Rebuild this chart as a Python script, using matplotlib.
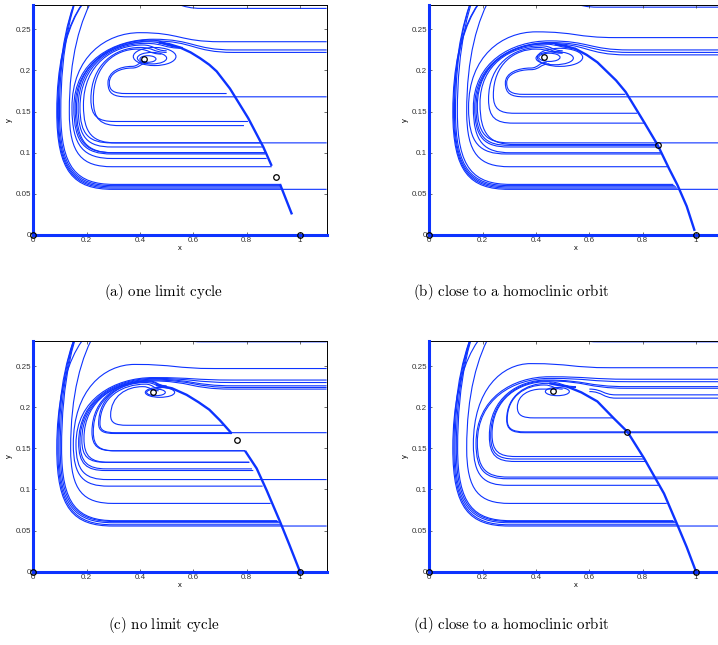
import matplotlib
matplotlib.use('Agg')
import matplotlib.pyplot as plt
from matplotlib.path import Path
from matplotlib.patches import PathPatch, Ellipse

plt.rcParams['mathtext.fontset'] = 'cm'
plt.rcParams['font.family'] = ['Liberation Sans', 'DejaVu Sans']

BLUE = (0.05, 0.2, 1.0)

# ---------------- data ----------------
# trajectory rows: x_in, y_in, x_top, y_peak, x_left, y_left, y_bot, x_out
traj_a = [
    (1.1, 0.2795, 0.33, 0.31, 0.088, 0.15, 0.0555, 1.1),
    (1.1, 0.2755, 0.33, 0.31, 0.091, 0.15, 0.057, 0.93),
    (1.1, 0.30, 0.40, 0.36, 0.094, 0.15, 0.0585, 0.93),
    (1.1, 0.30, 0.42, 0.37, 0.098, 0.15, 0.060, 0.93),
    (1.1, 0.30, 0.44, 0.38, 0.103, 0.15, 0.0615, 0.925),
    (1.1, 0.34, 0.45, 0.34, 0.135, 0.15, 0.083, 0.894),
    (1.1, 0.235, 0.40, 0.246, 0.145, 0.155, 0.093, 0.875),
    (1.1, 0.225, 0.45, 0.238, 0.152, 0.155, 0.0985, 0.87),
    (1.1, 0.222, 0.45, 0.236, 0.157, 0.155, 0.100, 0.87),
    (0.56, 0.228, 0.44, 0.237, 0.162, 0.155, 0.100, 0.87),
    (0.56, 0.228, 0.43, 0.235, 0.168, 0.155, 0.107, 0.86),
    (0.56, 0.227, 0.42, 0.233, 0.175, 0.155, 0.112, 1.1),
    (0.50, 0.224, 0.41, 0.231, 0.188, 0.158, 0.112, 0.85),
    (0.50, 0.222, 0.40, 0.228, 0.216, 0.165, 0.138, 0.805),
    (0.48, 0.220, 0.39, 0.226, 0.225, 0.165, 0.133, 0.79),
    (0.42, 0.211, 0.37, 0.205, 0.280, 0.185, 0.168, 1.1),
    (0.43, 0.209, 0.37, 0.203, 0.285, 0.185, 0.172, 0.725),
]
traj_b = [
    (1.1, 0.2795, 0.33, 0.31, 0.088, 0.15, 0.0555, 1.1),
    (1.1, 0.277, 0.33, 0.31, 0.091, 0.15, 0.057, 0.93),
    (1.1, 0.30, 0.40, 0.36, 0.094, 0.15, 0.0585, 0.925),
    (1.1, 0.30, 0.42, 0.37, 0.098, 0.15, 0.060, 0.92),
    (1.1, 0.30, 0.44, 0.38, 0.105, 0.15, 0.0615, 0.915),
    (1.1, 0.34, 0.45, 0.34, 0.140, 0.15, 0.083, 0.893),
    (1.1, 0.240, 0.40, 0.247, 0.147, 0.155, 0.0985, 0.868),
    (1.1, 0.225, 0.45, 0.236, 0.165, 0.155, 0.100, 0.868),
    (1.1, 0.222, 0.45, 0.234, 0.170, 0.155, 0.107, 0.86),
    (1.1, 0.219, 0.44, 0.233, 0.175, 0.155, 0.109, 0.856),
    (0.55, 0.227, 0.43, 0.232, 0.180, 0.157, 0.112, 1.1),
    (0.50, 0.224, 0.42, 0.230, 0.190, 0.160, 0.110, 0.855),
    (0.50, 0.222, 0.41, 0.228, 0.222, 0.165, 0.136, 0.81),
    (0.50, 0.221, 0.40, 0.226, 0.240, 0.170, 0.148, 0.78),
    (0.44, 0.210, 0.38, 0.203, 0.285, 0.185, 0.168, 1.1),
    (0.45, 0.208, 0.38, 0.201, 0.290, 0.185, 0.171, 0.735),
]
traj_c = [
    (1.1, 0.2795, 0.33, 0.31, 0.088, 0.15, 0.0555, 1.1),
    (1.1, 0.30, 0.40, 0.36, 0.092, 0.15, 0.057, 0.93),
    (1.1, 0.30, 0.42, 0.37, 0.096, 0.15, 0.0595, 0.925),
    (1.1, 0.30, 0.44, 0.38, 0.101, 0.15, 0.061, 0.92),
    (1.1, 0.30, 0.46, 0.39, 0.106, 0.15, 0.062, 0.915),
    (1.1, 0.34, 0.45, 0.34, 0.140, 0.15, 0.083, 0.89),
    (1.1, 0.247, 0.38, 0.252, 0.150, 0.155, 0.104, 0.86),
    (1.1, 0.233, 0.45, 0.236, 0.160, 0.155, 0.112, 1.1),
    (1.1, 0.230, 0.45, 0.235, 0.170, 0.157, 0.123, 0.825),
    (1.1, 0.226, 0.45, 0.234, 0.175, 0.158, 0.125, 0.82),
    (1.1, 0.224, 0.45, 0.233, 0.182, 0.160, 0.133, 0.81),
    (1.1, 0.222, 0.44, 0.232, 0.190, 0.162, 0.133, 0.81),
    (0.50, 0.226, 0.43, 0.232, 0.220, 0.170, 0.147, 0.794),
    (0.50, 0.225, 0.43, 0.231, 0.225, 0.170, 0.147, 0.794),
    (0.50, 0.224, 0.42, 0.230, 0.245, 0.180, 0.168, 0.745),
    (0.48, 0.222, 0.42, 0.228, 0.250, 0.180, 0.169, 1.1),
    (0.47, 0.220, 0.41, 0.225, 0.290, 0.190, 0.178, 0.715),
]
traj_d = [
    (1.1, 0.2795, 0.33, 0.31, 0.088, 0.15, 0.0555, 1.1),
    (1.1, 0.30, 0.40, 0.36, 0.092, 0.15, 0.057, 0.93),
    (1.1, 0.30, 0.42, 0.37, 0.096, 0.15, 0.0595, 0.925),
    (1.1, 0.30, 0.44, 0.38, 0.101, 0.15, 0.061, 0.92),
    (1.1, 0.30, 0.46, 0.39, 0.106, 0.15, 0.062, 0.915),
    (1.1, 0.34, 0.45, 0.34, 0.140, 0.15, 0.083, 0.89),
    (1.1, 0.248, 0.38, 0.253, 0.165, 0.155, 0.105, 0.86),
    (1.1, 0.234, 0.45, 0.237, 0.175, 0.156, 0.113, 1.1),
    (1.1, 0.231, 0.45, 0.235, 0.180, 0.157, 0.115, 1.1),
    (1.1, 0.225, 0.44, 0.233, 0.225, 0.165, 0.134, 0.81),
    (1.1, 0.223, 0.44, 0.232, 0.230, 0.165, 0.137, 0.805),
    (0.55, 0.225, 0.44, 0.231, 0.235, 0.167, 0.140, 0.80),
    (0.55, 0.224, 0.44, 0.229, 0.290, 0.185, 0.169, 1.1),
    (0.50, 0.222, 0.43, 0.227, 0.292, 0.185, 0.170, 1.1),
    (0.48, 0.222, 0.42, 0.222, 0.330, 0.200, 0.187, 0.69),
]
# short branches entering from the right and joining the sliding arc: x_in, y_in, x_end, y_end
stub_d = [(1.1, 0.215, 0.60, 0.222), (1.1, 0.211, 0.60, 0.219)]

# spiral loops around the focus: cx, cy, width, height
loops_a = [(0.430, 0.214, 0.06, 0.008), (0.445, 0.215, 0.11, 0.014), (0.455, 0.217, 0.16, 0.022)]
loops_b = [(0.450, 0.216, 0.08, 0.010), (0.470, 0.215, 0.14, 0.016), (0.490, 0.216, 0.17, 0.022)]
loops_c = [(0.460, 0.218, 0.07, 0.008), (0.475, 0.218, 0.11, 0.012)]
loops_d = [(0.480, 0.219, 0.09, 0.010)]

# thick sliding / separatrix arcs
arc_a_x = [0.47, 0.51, 0.55, 0.59, 0.625, 0.66, 0.6875, 0.7375, 0.806, 0.8625, 0.894]
arc_a_y = [0.234, 0.232, 0.228, 0.222, 0.215, 0.207, 0.199, 0.178, 0.142, 0.107, 0.084]
seg_a_x = [0.925, 0.97]
seg_a_y = [0.062, 0.025]
arc_b_x = [0.47, 0.51, 0.55, 0.59, 0.63, 0.70, 0.736, 0.80, 0.856, 0.90, 0.93, 0.965, 0.995]
arc_b_y = [0.232, 0.230, 0.226, 0.219, 0.210, 0.188, 0.174, 0.140, 0.1095, 0.080, 0.061, 0.035, 0.005]
arc_c1_x = [0.46, 0.52, 0.575, 0.62, 0.66, 0.70, 0.744]
arc_c1_y = [0.227, 0.223, 0.215, 0.206, 0.197, 0.184, 0.168]
arc_c2_x = [0.794, 0.8375, 0.875, 0.925, 0.96, 1.0]
arc_c2_y = [0.147, 0.1256, 0.099, 0.061, 0.033, 0.0]
arc_d_x = [0.45, 0.517, 0.57, 0.63, 0.693, 0.743, 0.805, 0.88, 0.93, 0.965, 1.0]
arc_d_y = [0.229, 0.225, 0.218, 0.207, 0.186, 0.170, 0.138, 0.095, 0.057, 0.030, 0.0]

# equilibria markers
eq_a_x = [0, 1, 0.415, 0.91]
eq_a_y = [0, 0, 0.214, 0.071]
eq_b_x = [0, 1, 0.429, 0.856]
eq_b_y = [0, 0, 0.216, 0.1095]
eq_c_x = [0, 1, 0.4475, 0.7625]
eq_c_y = [0, 0, 0.219, 0.160]
eq_d_x = [0, 1, 0.464, 0.743]
eq_d_y = [0, 0, 0.220, 0.170]

xticks = [0, 0.2, 0.4, 0.6, 0.8, 1]
xticklabels = ['0', '0.2', '0.4', '0.6', '0.8', '1']
yticks = [0, 0.05, 0.1, 0.15, 0.2, 0.25]
yticklabels = ['0', '0.05', '0.1', '0.15', '0.2', '0.25']
captions = [r'$\mathrm{(a)\ one\ limit\ cycle}$',
            r'$\mathrm{(b)\ close\ to\ a\ homoclinic\ orbit}$',
            r'$\mathrm{(c)\ no\ limit\ cycle}$',
            r'$\mathrm{(d)\ close\ to\ a\ homoclinic\ orbit}$']


def c_path(row):
    x_in, y_in, x_top, y_peak, x_left, y_left, y_bot, x_out = row
    verts = [(x_in, y_in)]
    codes = [Path.MOVETO]
    xs = x_in
    if x_in - x_top > 0.3:
        xs = x_top + 0.3
        verts.append((xs, y_in)); codes.append(Path.LINETO)
    d = xs - x_top
    verts += [(x_top + 0.5 * d, y_in), (x_top + 0.5 * d, y_peak), (x_top, y_peak)]
    codes += [Path.CURVE4] * 3
    tw = x_top - x_left
    verts += [(x_left + 0.5 * tw, y_peak), (x_left, y_left + 0.68 * (y_peak - y_left)), (x_left, y_left)]
    codes += [Path.CURVE4] * 3
    dy = y_left - y_bot
    bw = min(0.04 + 1.8 * dy, x_out - x_left)
    verts += [(x_left, y_left - 0.78 * dy), (x_left + 0.3 * bw, y_bot), (x_left + bw, y_bot)]
    codes += [Path.CURVE4] * 3
    if x_out > x_left + bw:
        verts.append((x_out, y_bot)); codes.append(Path.LINETO)
    return Path(verts, codes)


def stub_path(row):
    x_in, y_in, x_end, y_end = row
    verts = [(x_in, y_in), (x_end + 0.1, y_in), (x_end + 0.05, y_in), (x_end + 0.05, y_end), (x_end, y_end)]
    codes = [Path.MOVETO, Path.LINETO, Path.CURVE4, Path.CURVE4, Path.CURVE4]
    return Path(verts, codes)


fig = plt.figure(figsize=(7.18, 6.45), dpi=100)
W = 0.4085
H = 0.357
positions = [(0.0464, 0.6357), (0.598, 0.6357), (0.0464, 0.1137), (0.598, 0.1137)]
panels = [
    (traj_a, [], loops_a, [(arc_a_x, arc_a_y), (seg_a_x, seg_a_y)], (eq_a_x, eq_a_y)),
    (traj_b, [], loops_b, [(arc_b_x, arc_b_y)], (eq_b_x, eq_b_y)),
    (traj_c, [], loops_c, [(arc_c1_x, arc_c1_y), (arc_c2_x, arc_c2_y)], (eq_c_x, eq_c_y)),
    (traj_d, stub_d, loops_d, [(arc_d_x, arc_d_y)], (eq_d_x, eq_d_y)),
]

for (px, py), (trajs, stubs, loops, arcs, eqs) in zip(positions, panels):
    ax = fig.add_axes([px, py, W, H])
    ax.set_xlim(0, 1.1)
    ax.set_ylim(0, 0.28)
    for row in trajs:
        ax.add_patch(PathPatch(c_path(row), fill=False, edgecolor=BLUE, lw=0.8))
    for row in stubs:
        ax.add_patch(PathPatch(stub_path(row), fill=False, edgecolor=BLUE, lw=0.8))
    for cx, cy, w, h in loops:
        ax.add_patch(Ellipse((cx, cy), w, h, fill=False, edgecolor=BLUE, lw=0.8))
    for axx, ayy in arcs:
        ax.plot(axx, ayy, color=BLUE, lw=1.7, solid_capstyle='butt', solid_joinstyle='round')
    ax.plot([0, 0], [0, 0.28], color=BLUE, lw=2.2, clip_on=False, zorder=3)
    ax.plot([0, 1.1], [0, 0], color=BLUE, lw=2.2, clip_on=False, zorder=3)
    ax.plot(eqs[0], eqs[1], 'o', mfc='none', mec='black', ms=4, mew=0.9, clip_on=False, zorder=5)
    ax.set_xticks(xticks)
    ax.set_xticklabels(xticklabels)
    ax.set_yticks(yticks)
    ax.set_yticklabels(yticklabels)
    ax.tick_params(direction='in', top=True, right=True, length=2.5, width=0.5,
                   labelsize=5.8, pad=1.5, colors='#333333')
    ax.set_xlabel('x', fontsize=5.5, labelpad=1)
    ax.set_ylabel('y', fontsize=5.5, labelpad=2)
    for s in ax.spines.values():
        s.set_linewidth(0.7)
        s.set_color('black')

cap_pos = [(0.228, 0.547), (0.712, 0.547), (0.228, 0.031), (0.712, 0.031)]
for (cx, cy), txt in zip(cap_pos, captions):
    fig.text(cx, cy, txt, ha='center', va='center', fontsize=10.8)

fig.savefig('out.png', dpi=100)
